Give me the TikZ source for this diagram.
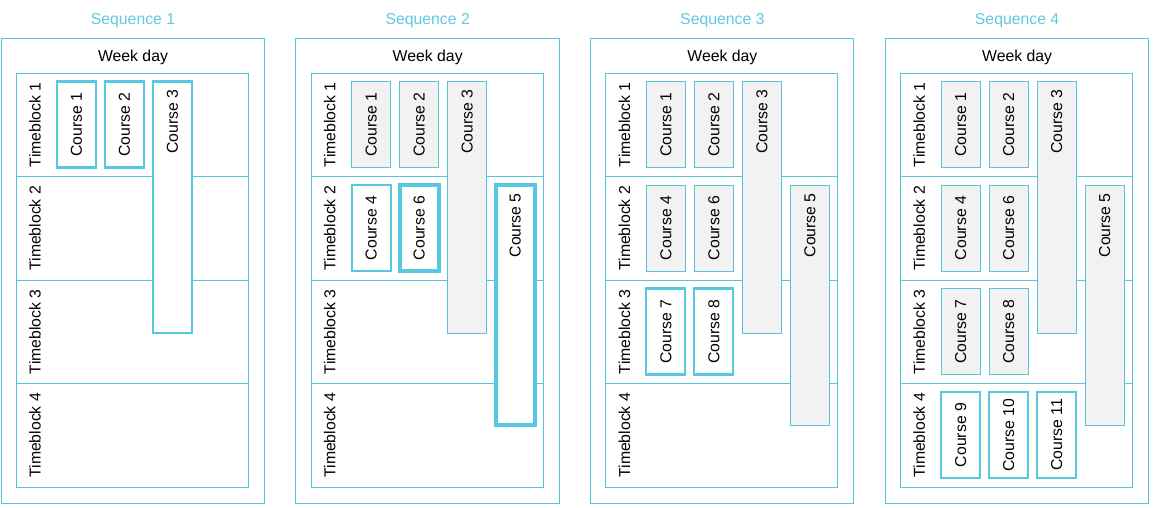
\documentclass[tikz,border=0pt]{standalone}
\usepackage{fontspec}
\setmainfont{Liberation Sans}
\definecolor{cy}{RGB}{86,196,218}
\definecolor{cyhl}{RGB}{88,200,224}
\definecolor{cyt}{RGB}{96,200,226}
\definecolor{gr}{RGB}{242,242,242}
% short course: name, panel x, column, top, style, label
\newcommand\crs[6]{%
  \node[#5, minimum height=86pt] (#1) at ({#2+56+48*(#3-1)},#4) {};
  \node[lbl] (#1t) at (#1.center) {#6};}
% tall course: name, panel x, column, top, height, style, label
\newcommand\crl[7]{%
  \node[#6, minimum height=#5pt] (#1) at ({#2+56+48*(#3-1)},#4) {};
  \node[lbl, anchor=east] (#1t) at ([yshift=-8pt]#1.north) {#7};}
\begin{document}
\begin{tikzpicture}[x=1pt,y=-1pt,
  font=\fontsize{15.8}{18}\selectfont,
  frame/.style={draw=cy, line width=1pt},
  box/.style={anchor=north west, minimum width=39pt, inner sep=0pt, outer sep=0pt},
  done/.style={box, draw=cy, fill=gr, line width=0.9pt},
  now/.style={box, draw=cyhl, fill=white, line width=2.1pt},
  bold/.style={box, draw=cyhl, fill=white, line width=3.6pt},
  lbl/.style={rotate=90, inner sep=0pt},
  ttl/.style={text=cyt}]
\useasboundingbox (0,0) rectangle (1154,507);
\def\pa{1}\def\pb{295.7}\def\pc{590.4}\def\pd{885.1}
\foreach \n/\p in {1/\pa,2/\pb,3/\pc,4/\pd}{
  \node[ttl] (title\n) at (\p+132,21) {Sequence \n};
  \draw[frame] (\p,38.5) rectangle (\p+263.5,503);
  \node (wd\n) at (\p+132,57.5) {Week day};
  \draw[frame] (\p+15.5,73) rectangle (\p+247.5,487);
  \foreach \yy in {176.5,280,383.5}{\draw[frame] (\p+15.5,\yy) -- (\p+247.5,\yy);}
  \foreach \r/\yc in {1/124.75,2/228.25,3/331.75,4/435.25}{
    \node[lbl] (s\n tb\r) at (\p+34,\yc) {Timeblock \r};}
}
% Sequence 1
\crs{aA}{\pa}{1}{81.5}{now}{Course 1}
\crs{aB}{\pa}{2}{81.5}{now}{Course 2}
\crl{aC}{\pa}{3}{81.5}{251.5}{now}{Course 3}
% Sequence 2
\crs{bA}{\pb}{1}{81.5}{done}{Course 1}
\crs{bB}{\pb}{2}{81.5}{done}{Course 2}
\crl{bC}{\pb}{3}{81.5}{251.5}{done}{Course 3}
\crs{bD}{\pb}{1}{185}{now}{Course 4}
\crs{bF}{\pb}{2}{185}{bold}{Course 6}
\crl{bE}{\pb}{4}{185}{240}{bold}{Course 5}
% Sequence 3
\crs{cA}{\pc}{1}{81.5}{done}{Course 1}
\crs{cB}{\pc}{2}{81.5}{done}{Course 2}
\crl{cC}{\pc}{3}{81.5}{251.5}{done}{Course 3}
\crs{cD}{\pc}{1}{185}{done}{Course 4}
\crs{cF}{\pc}{2}{185}{done}{Course 6}
\crl{cE}{\pc}{4}{185}{240}{done}{Course 5}
\crs{cG}{\pc}{1}{288.5}{now}{Course 7}
\crs{cH}{\pc}{2}{288.5}{now}{Course 8}
% Sequence 4
\crs{dA}{\pd}{1}{81.5}{done}{Course 1}
\crs{dB}{\pd}{2}{81.5}{done}{Course 2}
\crl{dC}{\pd}{3}{81.5}{251.5}{done}{Course 3}
\crs{dD}{\pd}{1}{185}{done}{Course 4}
\crs{dF}{\pd}{2}{185}{done}{Course 6}
\crl{dE}{\pd}{4}{185}{240}{done}{Course 5}
\crs{dG}{\pd}{1}{288.5}{done}{Course 7}
\crs{dH}{\pd}{2}{288.5}{done}{Course 8}
\crs{dI}{\pd}{1}{392}{now}{Course 9}
\crs{dJ}{\pd}{2}{392}{now}{Course 10}
\crs{dK}{\pd}{3}{392}{now}{Course 11}
\end{tikzpicture}
\end{document}
